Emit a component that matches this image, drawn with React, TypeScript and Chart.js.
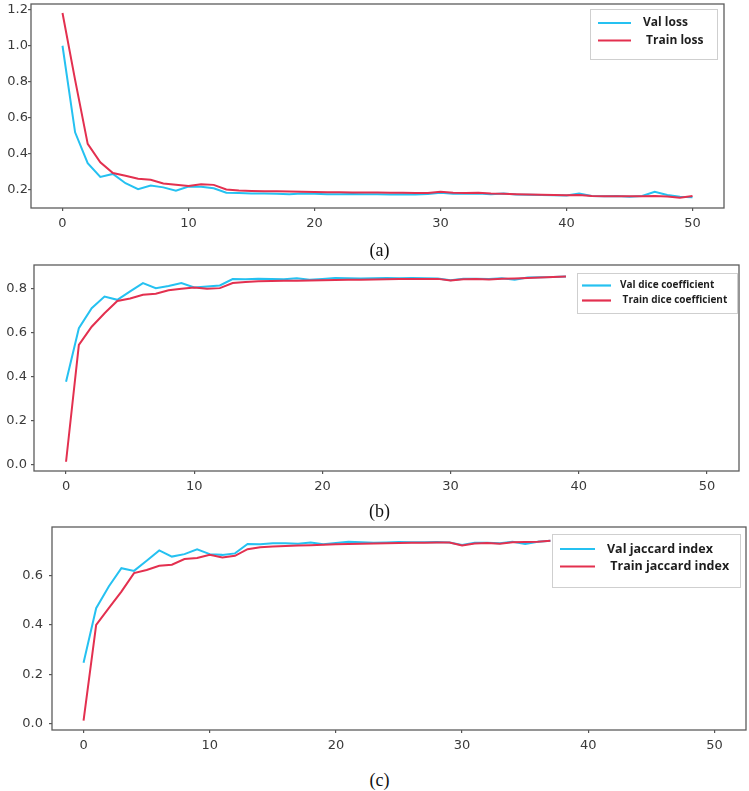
import React, { useEffect, useRef } from "react";
import { Chart, registerables } from "chart.js";

Chart.register(...registerables);

// ---------- data ----------
const xTickValues = [0, 10, 20, 30, 40, 50];

const lossYTicks = [0.2, 0.4, 0.6, 0.8, 1.0, 1.2];
const diceYTicks = [0.0, 0.2, 0.4, 0.6, 0.8];
const jaccardYTicks = [0.0, 0.2, 0.4, 0.6];

const valLoss = [
  1.0, 0.517, 0.345, 0.268, 0.285, 0.233, 0.2, 0.22, 0.21, 0.192,
  0.215, 0.213, 0.205, 0.18, 0.178, 0.176, 0.176, 0.175, 0.172, 0.176,
  0.174, 0.172, 0.172, 0.173, 0.172, 0.172, 0.171, 0.172, 0.171, 0.173,
  0.18, 0.175, 0.174, 0.176, 0.172, 0.176, 0.17, 0.169, 0.168, 0.166,
  0.165, 0.176, 0.162, 0.16, 0.162, 0.158, 0.162, 0.185, 0.168, 0.158,
  0.155,
];
const trainLoss = [
  1.183, 0.81, 0.453, 0.35, 0.29, 0.275, 0.258, 0.252, 0.232, 0.225,
  0.218, 0.228, 0.224, 0.198, 0.192, 0.19, 0.189, 0.188, 0.187, 0.185,
  0.184, 0.183, 0.183, 0.182, 0.182, 0.181, 0.18, 0.18, 0.179, 0.179,
  0.185, 0.18, 0.179, 0.18, 0.176, 0.174, 0.172, 0.171, 0.169, 0.168,
  0.166, 0.168, 0.162, 0.161, 0.16, 0.16, 0.161, 0.162, 0.159, 0.152,
  0.162,
];

const valDice = [
  0.375, 0.618, 0.709, 0.762, 0.747, 0.785, 0.823, 0.8, 0.81, 0.823,
  0.803, 0.807, 0.812, 0.841, 0.84, 0.843, 0.842, 0.84, 0.845, 0.838,
  0.842, 0.846, 0.845, 0.844, 0.845, 0.846, 0.845, 0.846, 0.845, 0.844,
  0.836, 0.843, 0.843, 0.841, 0.845, 0.838, 0.848, 0.849, 0.85, 0.853,
];
const trainDice = [
  0.012, 0.542, 0.625, 0.686, 0.742, 0.753, 0.77, 0.775, 0.79, 0.797,
  0.803, 0.797, 0.8, 0.823, 0.828, 0.831, 0.832, 0.833, 0.834, 0.835,
  0.836, 0.837, 0.838, 0.838, 0.839, 0.84, 0.841, 0.841, 0.842, 0.842,
  0.835, 0.84, 0.841, 0.839, 0.843, 0.844, 0.846, 0.848, 0.85, 0.853,
];

const valJaccard = [
  0.247, 0.468, 0.556, 0.63, 0.619, 0.66, 0.702, 0.677, 0.687, 0.707,
  0.687, 0.684, 0.69, 0.728, 0.727, 0.731, 0.731, 0.729, 0.734, 0.727,
  0.732, 0.737, 0.735, 0.733, 0.734, 0.736, 0.735, 0.735, 0.736, 0.734,
  0.724, 0.733, 0.733, 0.731, 0.737, 0.728, 0.737, 0.741,
];
const trainJaccard = [
  0.012, 0.4, 0.468, 0.535, 0.61, 0.623, 0.64, 0.644, 0.667, 0.671,
  0.684, 0.673, 0.68, 0.707, 0.715, 0.718, 0.72, 0.722, 0.723, 0.725,
  0.727, 0.728, 0.729, 0.73, 0.731, 0.732, 0.733, 0.733, 0.734, 0.734,
  0.722, 0.73, 0.732, 0.729, 0.735, 0.736, 0.737, 0.741,
];

const lossLabels = ["Val loss", " Train loss"];
const diceLabels = ["Val dice coefficient", " Train dice coefficient"];
const jaccardLabels = ["Val jaccard index", " Train jaccard index"];
const captions = ["(a)", "(b)", "(c)"];

// ---------- styles ----------
const VAL_COLOR = "#25c1f1";
const TRAIN_COLOR = "#e3304f";
const W = 749;

type Panel = {
  pageTop: number;
  height: number;
  area: { left: number; top: number; right: number; bottom: number };
  yMin: number;
  yMax: number;
  yTicks: number[];
  yPad: number;
  val: number[];
  train: number[];
  labels: string[];
  legend: {
    box: [number, number, number, number];
    lineX: [number, number];
    textX: number;
    rows: [number, number];
    font: number;
  };
};

const panels: Panel[] = [
  {
    pageTop: 0,
    height: 235,
    area: { left: 31, top: 4, right: 724, bottom: 208 },
    yMin: 0.095,
    yMax: 1.233,
    yTicks: lossYTicks,
    yPad: 0,
    val: valLoss,
    train: trainLoss,
    labels: lossLabels,
    legend: { box: [590, 9, 127, 50], lineX: [598, 631], textX: 643, rows: [23, 40.5], font: 12 },
  },
  {
    pageTop: 258,
    height: 240,
    area: { left: 34, top: 7, right: 739, bottom: 213 },
    yMin: -0.03,
    yMax: 0.905,
    yTicks: diceYTicks,
    yPad: 4,
    val: valDice,
    train: trainDice,
    labels: diceLabels,
    legend: { box: [577, 15, 160, 40], lineX: [582, 611], textX: 620, rows: [27.5, 42.5], font: 10 },
  },
  {
    pageTop: 518,
    height: 245,
    area: { left: 52, top: 9, right: 746, bottom: 212 },
    yMin: -0.026,
    yMax: 0.797,
    yTicks: jaccardYTicks,
    yPad: 6,
    val: valJaccard,
    train: trainJaccard,
    labels: jaccardLabels,
    legend: { box: [552, 16, 188, 53], lineX: [560, 595], textX: 607, rows: [31, 48.5], font: 12.5 },
  },
];

const frameLegendPlugin = {
  id: "frameLegend",
  afterDatasetsDraw(chart: any, _args: any, opts: any) {
    const { ctx, chartArea: a } = chart;
    ctx.save();
    // frame
    ctx.strokeStyle = "#5c5c5c";
    ctx.lineWidth = 1.3;
    ctx.strokeRect(a.left, a.top, a.right - a.left, a.bottom - a.top);
    // legend
    const L = opts.legend;
    if (L) {
      const [bx, by, bw, bh] = L.box;
      ctx.fillStyle = "#ffffff";
      ctx.fillRect(bx, by, bw, bh);
      ctx.strokeStyle = "#cfcfcf";
      ctx.lineWidth = 1;
      ctx.strokeRect(bx + 0.5, by + 0.5, bw, bh);
      const entries = opts.entries as { label: string; color: string }[];
      entries.forEach((e, i) => {
        const y = L.rows[i];
        ctx.strokeStyle = e.color;
        ctx.lineWidth = 2.2;
        ctx.beginPath();
        ctx.moveTo(L.lineX[0], y);
        ctx.lineTo(L.lineX[1], y);
        ctx.stroke();
        ctx.fillStyle = "#1e1e1e";
        ctx.font = `bold ${L.font}px "Open Sans", sans-serif`;
        ctx.textBaseline = "middle";
        ctx.textAlign = "left";
        ctx.fillText(e.label, L.textX, y);
      });
    }
    ctx.restore();
  },
};

function PanelChart({ p }: { p: Panel }) {
  const ref = useRef<HTMLCanvasElement | null>(null);
  useEffect(() => {
    if (!ref.current) return;
    const toXY = (arr: number[]) => arr.map((v, i) => ({ x: i, y: v }));
    const tickFont = { family: '"DejaVu Sans", sans-serif', size: 13 };
    const xAxisH = 22;
    const chart = new Chart(ref.current, {
      type: "line",
      data: {
        datasets: [
          {
            label: p.labels[0],
            data: toXY(p.val),
            borderColor: VAL_COLOR,
            backgroundColor: VAL_COLOR,
            borderWidth: 2,
            pointRadius: 0,
            tension: 0,
            order: 1,
          },
          {
            label: p.labels[1],
            data: toXY(p.train),
            borderColor: TRAIN_COLOR,
            backgroundColor: TRAIN_COLOR,
            borderWidth: 2,
            pointRadius: 0,
            tension: 0,
            order: 0,
          },
        ],
      },
      options: {
        responsive: false,
        animation: false,
        devicePixelRatio: 1,
        layout: {
          padding: {
            left: 0,
            top: p.area.top,
            right: W - p.area.right,
            bottom: p.height - p.area.bottom - xAxisH,
          },
        },
        plugins: {
          legend: { display: false },
          tooltip: { enabled: false },
          frameLegend: {
            legend: p.legend,
            entries: [
              { label: p.labels[0], color: VAL_COLOR },
              { label: p.labels[1], color: TRAIN_COLOR },
            ],
          },
        } as any,
        scales: {
          x: {
            type: "linear",
            min: -2.5,
            max: 52.5,
            border: { display: false },
            grid: { drawOnChartArea: false, drawTicks: true, tickLength: 3, color: "#555", lineWidth: 1.2 },
            ticks: {
              autoSkip: false,
              maxRotation: 0,
              padding: 5,
              color: "#3a3a3a",
              font: tickFont,
              callback: (v: any) => String(v),
            },
            afterBuildTicks: (axis: any) => {
              axis.ticks = xTickValues.map((v) => ({ value: v }));
            },
            afterFit: (axis: any) => {
              axis.height = xAxisH;
              axis.paddingLeft = 0;
              axis.paddingRight = 0;
            },
          },
          y: {
            type: "linear",
            min: p.yMin,
            max: p.yMax,
            border: { display: false },
            grid: { drawOnChartArea: false, drawTicks: true, tickLength: 3, color: "#555", lineWidth: 1.2 },
            ticks: {
              autoSkip: false,
              padding: p.yPad,
              color: "#3a3a3a",
              font: tickFont,
              callback: (v: any) => Number(v).toFixed(1),
            },
            afterBuildTicks: (axis: any) => {
              axis.ticks = p.yTicks.map((v) => ({ value: v }));
            },
            afterFit: (axis: any) => {
              axis.width = p.area.left;
              axis.paddingTop = 0;
              axis.paddingBottom = 0;
            },
          },
        },
      } as any,
      plugins: [frameLegendPlugin as any],
    });
    return () => chart.destroy();
  }, [p]);
  return (
    <canvas
      ref={ref}
      width={W}
      height={p.height}
      style={{ position: "absolute", left: 0, top: p.pageTop, width: W, height: p.height, display: "block" }}
    />
  );
}

const captionCenters = [250, 510.5, 780];

export default function App() {
  return (
    <div
      style={{
        position: "absolute",
        left: 0,
        top: 0,
        width: W,
        height: 791,
        background: "#ffffff",
        overflow: "hidden",
      }}
    >
      {panels.map((p, i) => (
        <PanelChart key={i} p={p} />
      ))}
      {captions.map((c, i) => (
        <div
          key={c}
          style={{
            position: "absolute",
            left: 329.5,
            width: 100,
            top: captionCenters[i] - 11,
            height: 22,
            lineHeight: "22px",
            textAlign: "center",
            fontFamily: '"Liberation Serif", "Times New Roman", serif',
            fontSize: 18,
            color: "#111",
          }}
        >
          {c}
        </div>
      ))}
    </div>
  );
}
